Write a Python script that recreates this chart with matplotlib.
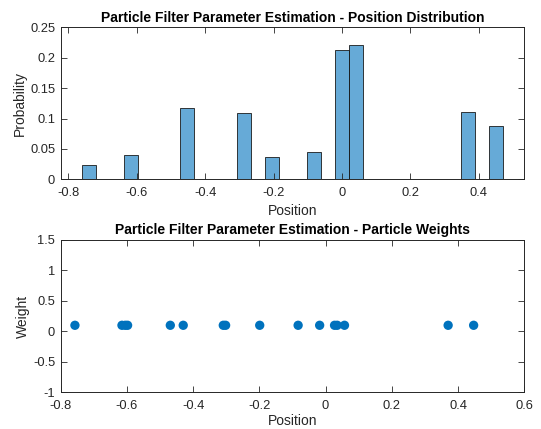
import numpy as np
import matplotlib
matplotlib.use("Agg")
import matplotlib.pyplot as plt

# histogram bins (left edges) and probabilities
bin_lefts = [-0.759, -0.636, -0.472, -0.308, -0.226, -0.103, -0.021, 0.020, 0.348, 0.430]
bin_probs = [0.0236, 0.0395, 0.1173, 0.109, 0.0373, 0.045, 0.2127, 0.221, 0.111, 0.087]
bin_width = 0.041

# particle positions and weights
positions = [-0.757, -0.615, -0.605, -0.598, -0.469, -0.430, -0.309, -0.302,
             -0.199, -0.083, -0.018, 0.027, 0.035, 0.057, 0.370, 0.447]
weights = [0.1] * len(positions)

top_xticks = [-0.8, -0.6, -0.4, -0.2, 0, 0.2, 0.4]
top_yticks = [0, 0.05, 0.1, 0.15, 0.2, 0.25]
bot_xticks = [-0.8, -0.6, -0.4, -0.2, 0, 0.2, 0.4, 0.6]
bot_yticks = [-1, -0.5, 0, 0.5, 1, 1.5]

plt.rcParams["font.family"] = ["Liberation Sans", "DejaVu Sans"]
plt.rcParams["axes.unicode_minus"] = False

TXT = "#262626"
W, H = 541, 429
fig = plt.figure(figsize=(W / 100, H / 100), dpi=100)


def fmt(v):
    return f"{v:g}"


def style_axes(ax, xticks, yticks):
    ax.set_xticks(xticks)
    ax.set_xticklabels([fmt(v) for v in xticks])
    ax.set_yticks(yticks)
    ax.set_yticklabels([fmt(v) for v in yticks])
    ax.tick_params(direction="in", length=4, width=0.6, colors=TXT, labelsize=9.3,
                   top=True, right=True)
    ax.tick_params(axis="x", pad=5.5)
    ax.tick_params(axis="y", pad=4)
    for sp in ax.spines.values():
        sp.set_color(TXT)
        sp.set_linewidth(0.7)


# top: histogram
ax1 = fig.add_axes([60.7 / W, 1 - 179.3 / H, 463.6 / W, 152 / H])
ax1.bar(bin_lefts, bin_probs, width=bin_width, align="edge",
        color=(0.0, 0.447, 0.741, 0.6), edgecolor=(0.1, 0.1, 0.1), linewidth=0.6)
ax1.set_xlim(-0.822, 0.533)
ax1.set_ylim(0, 0.25)
style_axes(ax1, top_xticks, top_yticks)
ax1.set_title("Particle Filter Parameter Estimation - Position Distribution",
              fontsize=10, fontweight="bold", color="black", pad=4)
ax1.set_xlabel("Position", fontsize=10, color=TXT, labelpad=3.5)
ax1.set_ylabel("Probability", fontsize=10, color=TXT, labelpad=2)

# bottom: particle weights
ax2 = fig.add_axes([60.7 / W, 1 - 392.3 / H, 463.6 / W, 152.3 / H])
ax2.scatter(positions, weights, s=45, color="#0072BD", edgecolors="none", zorder=3)
ax2.set_xlim(-0.8, 0.6)
ax2.set_ylim(-1, 1.5)
style_axes(ax2, bot_xticks, bot_yticks)
ax2.set_title("Particle Filter Parameter Estimation - Particle Weights",
              fontsize=10, fontweight="bold", color="black", pad=4)
ax2.set_xlabel("Position", fontsize=10, color=TXT, labelpad=1.5)
ax2.set_ylabel("Weight", fontsize=10, color=TXT, labelpad=2)

fig.savefig("out.png", dpi=100, facecolor="white")
